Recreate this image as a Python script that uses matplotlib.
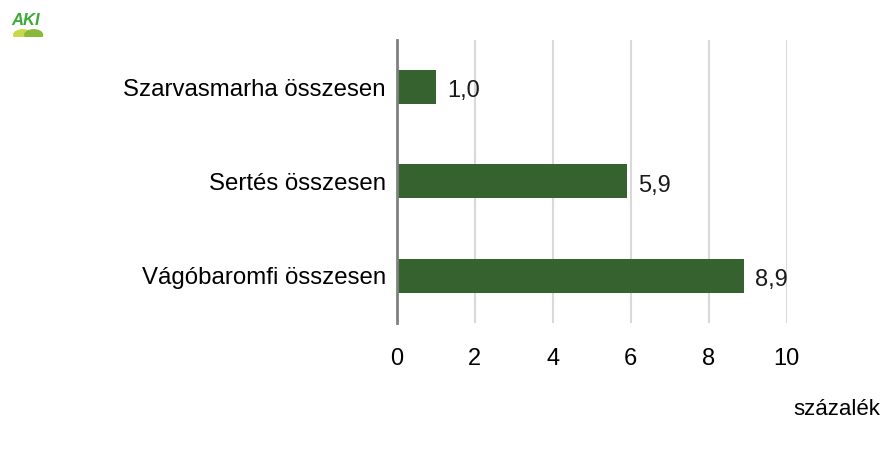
import numpy as np
import matplotlib
import matplotlib.pyplot as plt
from matplotlib.patches import Ellipse

matplotlib.rcParams.update({"font.family": ["Liberation Sans", "DejaVu Sans"], "font.size": 17})

categories = ["Szarvasmarha összesen", "Sertés összesen", "Vágóbaromfi összesen"]
values = [1.0, 5.9, 8.9]
xticks = [0, 2, 4, 6, 8, 10]
BAR_COLOR = "#35622F"

fig = plt.figure(figsize=(8.86, 4.53), dpi=100)
ax = fig.add_axes([0.448, 0.287, 0.44, 0.625])

y = np.arange(len(categories))
bars = ax.barh(y, values, height=0.36, color=BAR_COLOR, zorder=3)
for b, v in zip(bars, values):
    ax.annotate(f"{v:.1f}".replace(".", ","), (v, b.get_y() + b.get_height() / 2),
                xytext=(8, -3), textcoords="offset points", ha="left", va="center",
                fontsize=17, color="#1a1a1a")

ax.set_xlim(0, 10)
ax.set_ylim(2.5, -0.5)
ax.set_xticks(xticks)
ax.set_xticklabels([str(t) for t in xticks])
ax.set_yticks(y)
ax.set_yticklabels(categories, fontsize=17.3)
ax.grid(axis="x", color="#d9d9d9", linewidth=1.5, zorder=0)
ax.tick_params(length=0)
ax.tick_params(axis="x", pad=18)
ax.tick_params(axis="y", pad=8)
for s in ["top", "right", "bottom"]:
    ax.spines[s].set_visible(False)
ax.spines["left"].set_color("#808080")
ax.spines["left"].set_linewidth(2)
ax.spines["left"].set_zorder(4)

fig.text(0.993, 0.095, "százalék", ha="right", va="center", fontsize=16)

# AKI logo
fig.text(0.013, 0.955, "AKI", ha="left", va="center", fontsize=12, fontweight="bold",
         fontstyle="italic", color="#3aa935")
la = fig.add_axes([0.008, 0.918, 0.05, 0.025])
la.set_xlim(0, 1)
la.set_ylim(0, 1)
la.axis("off")
la.add_patch(Ellipse((0.35, 0.2), 0.4, 0.9, color="#c8d94a"))
la.add_patch(Ellipse((0.6, 0.2), 0.4, 0.9, color="#8ab83a"))

fig.savefig("out.png", dpi=100)
